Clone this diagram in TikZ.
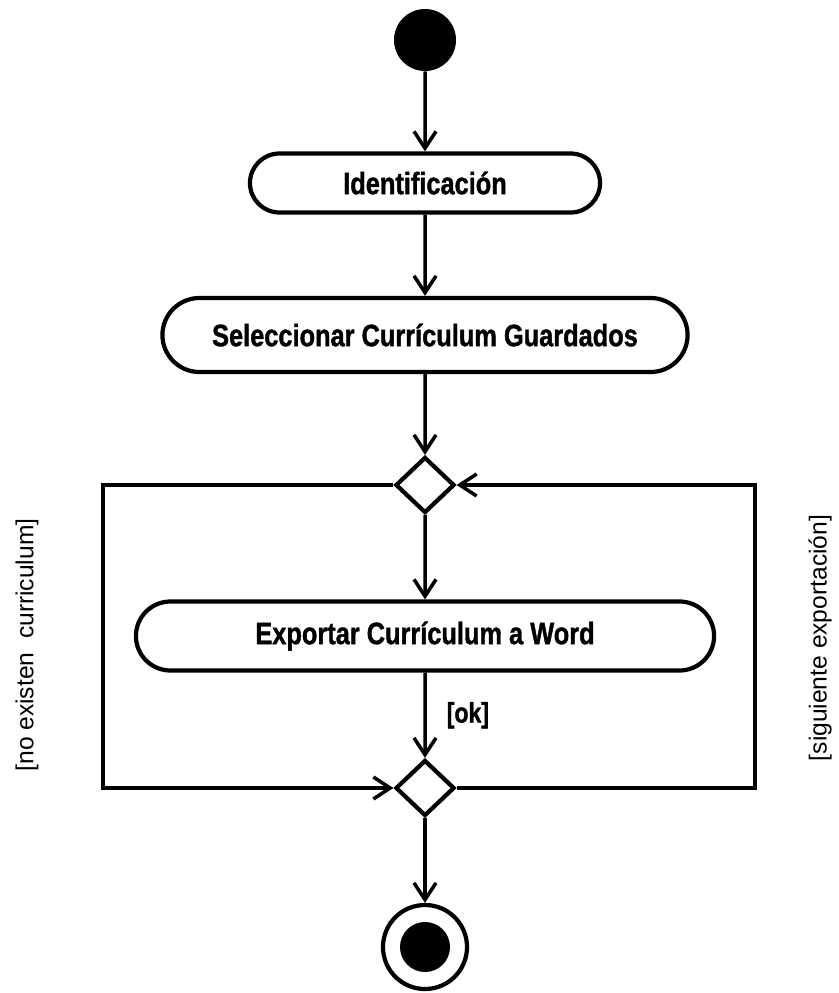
\documentclass[tikz,border=0pt]{standalone}
\usepackage{fontspec}
\setmainfont{Liberation Sans}
\newfontfamily\actfont{Liberation Sans}[FakeStretch=0.82,BoldFeatures={FakeBold=1.2}]
\usetikzlibrary{arrows.meta}
\usetikzlibrary{shapes.geometric}
\usetikzlibrary{shapes.misc}

\begin{document}
            \begin{tikzpicture}[x=0.025cm,y=-0.025cm,
                act/.style={draw,rounded rectangle,line width=3pt,inner sep=0pt,
                    font=\actfont\bfseries\fontsize{22}{26}\selectfont},
                decision/.style={draw,diamond,line width=3pt,inner sep=0pt,
                    minimum width=1.475cm,minimum height=1.4cm},
                flow/.style={line width=2.5pt,-{Straight Barb[length=0.42cm,width=0.55cm]}},
                guard/.style={rotate=90,font=\fontsize{17.5}{20}\selectfont}]
                \useasboundingbox (0,0) rectangle (839,993);
                \node[circle,fill,minimum size=1.55cm,inner sep=0pt] (start) at (425,40) {};
                \node[act,minimum width=8.75cm,minimum height=1.475cm] (ident) at (425,183) {Identificación};
                \node[act,minimum width=13.125cm,minimum height=1.85cm] (sel) at (425,335) {Seleccionar Currículum Guardados};
                \node[decision] (dec) at (425,485) {};
                \node[act,minimum width=14.45cm,minimum height=1.725cm] (exp) at (425,636) {Exportar Currículum a Word};
                \node[decision] (merge) at (425,788) {};
                \node[circle,draw,line width=3pt,minimum size=2.1cm,inner sep=0pt] (final) at (425,947) {};
                \node[circle,fill,minimum size=1.25cm,inner sep=0pt] (finaldot) at (final) {};
                \coordinate (lt) at (103,485);
                \coordinate (lb) at (103,788);
                \coordinate (rt) at (755,485);
                \coordinate (rb) at (755,788);
                \draw[flow] (start) -- (ident);
                \draw[flow] (ident) -- (sel);
                \draw[flow] (sel) -- (dec);
                \draw[flow] (dec) -- (exp);
                \draw[flow] (exp) -- node[anchor=west,inner sep=0pt,xshift=0.5cm,
                    font=\actfont\bfseries\fontsize{20}{22}\selectfont] (ok) {[ok]} (merge);
                \draw[flow] (merge) -- (final);
                \draw[flow] (dec.west) -- (lt) -- (lb) -- (merge.west);
                \draw[flow] (merge.east) -- (rb) -- (rt) -- (dec.east);
                \node[guard] (noexist) at (27,645) {[no existen\ \ curriculum]};
                \node[guard] (nextexp) at (820,638) {[siguiente exportación]};
            \end{tikzpicture}
\end{document}
